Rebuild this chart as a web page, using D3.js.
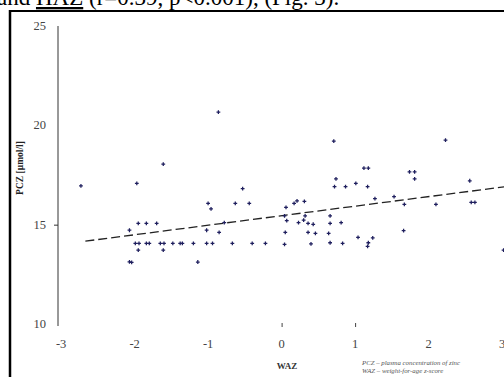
<!DOCTYPE html>
<html><head><meta charset="utf-8">
<script src="https://cdn.jsdelivr.net/npm/d3@7"></script>
<style>html,body{margin:0;padding:0;background:#fff;overflow:hidden}svg{display:block}</style>
</head><body>
<script>
const xTicks = [-3, -2, -1, 0, 1, 2, 3];
const yTicks = [10, 15, 20, 25];
const xTickMarks = [0, 1];
const yTickMarks = [15];
const waz = [-0.86,-1.61,-2.73,-1.97,-1.00,-0.96,-0.63,-0.44,-0.53,-1.95,-1.84,-1.70,-2.07,-1.02,-0.85,-0.78,
 -1.99,-1.94,-1.84,-1.80,-1.65,-1.60,-1.48,-1.38,-1.35,-1.20,-1.02,-0.94,-0.67,-0.40,-0.22,
 -1.95,-1.61,-2.07,-2.04,-1.14,
 0.71,2.23,1.12,1.18,1.74,1.81,1.81,0.74,1.01,0.72,0.87,1.17,2.56,1.27,1.53,1.67,2.10,2.58,2.63,
 0.17,0.21,0.31,0.06,0.04,0.07,0.32,0.66,0.23,0.30,0.36,0.43,0.66,0.81,0.05,0.36,0.46,0.64,1.66,
 1.04,1.24,0.04,0.40,0.66,0.83,1.18,1.17,3.02];
const pcz = [20.67,18.05,16.95,17.08,16.07,15.79,16.07,16.07,16.81,15.07,15.07,15.07,14.72,14.72,14.61,15.10,
 14.06,14.06,14.06,14.06,14.06,14.06,14.06,14.06,14.06,14.06,14.06,14.06,14.06,14.06,14.06,
 13.72,13.72,13.13,13.10,13.12,
 19.21,19.26,17.85,17.85,17.66,17.66,17.31,17.30,17.08,16.91,16.91,16.91,17.21,16.31,16.41,16.02,16.02,16.12,16.12,
 16.07,16.20,16.17,15.87,15.44,15.20,15.44,15.44,15.10,15.23,15.07,15.02,15.07,15.10,14.61,14.61,14.56,14.56,14.70,
 14.36,14.33,14.01,14.03,14.09,14.06,14.09,13.91,13.72];
const trendX = [-2.67, 3.06];
const trendY = [14.17, 16.92];

const W = 504, H = 377;
const svg = d3.select("body").append("svg").attr("width", W).attr("height", H);
const x = d3.scaleLinear().domain([-3, 3]).range([61.1, 502.1]);
const y = d3.scaleLinear().domain([10, 25]).range([324, 26]);
const serif = "'Liberation Serif','DejaVu Serif',serif";

// page text clipped at top
const t = svg.append("text").attr("x", -3).attr("y", 5).attr("font-family", serif).attr("font-size", 23).attr("fill", "#000");
t.append("tspan").text("and ");
t.append("tspan").text("HAZ").attr("text-decoration", "underline");
t.append("tspan").text(" (r=0.39, p<0.001), (Fig. 3).");

// frame
svg.append("line").attr("x1", 9).attr("x2", W).attr("y1", 11).attr("y2", 11).attr("stroke", "#000").attr("stroke-width", 2);
svg.append("line").attr("x1", 10).attr("x2", 10).attr("y1", 10).attr("y2", H).attr("stroke", "#000").attr("stroke-width", 2.5);

// y axis
const yAxis = d3.axisLeft(y).tickValues(yTickMarks).tickSize(4).tickFormat("");
const gy = svg.append("g").attr("transform", "translate(58,0)").call(yAxis);
gy.select(".domain").attr("stroke", "#333").attr("d", `M0,${y(25)}V${y(10) + 2}`);
gy.selectAll(".tick line").attr("stroke", "#333");
svg.append("g").selectAll("text").data(yTicks).join("text")
  .attr("x", 46).attr("y", d => y(d) + 4).attr("text-anchor", "end")
  .attr("font-family", serif).attr("font-size", 12.5).attr("fill", "#444").text(d => d);

// x axis ticks and labels (no domain line)
const xAxis = d3.axisBottom(x).tickValues(xTickMarks).tickSize(4).tickFormat("");
const gx = svg.append("g").attr("transform", `translate(0,${y(10) - 1})`).call(xAxis);
gx.select(".domain").remove();
gx.selectAll(".tick line").attr("stroke", "#444");
svg.append("g").selectAll("text").data(xTicks).join("text")
  .attr("x", d => x(d)).attr("y", 348).attr("text-anchor", "middle")
  .attr("font-family", serif).attr("font-size", 12.5).attr("fill", "#444").text(d => d);

// axis titles
svg.append("text").attr("transform", "translate(23,168) rotate(-90)").attr("text-anchor", "middle")
  .attr("font-family", serif).attr("font-size", 9.5).attr("font-weight", "bold").attr("fill", "#222").text("PCZ [µmol/l]");
svg.append("text").attr("x", 287).attr("y", 369).attr("text-anchor", "middle")
  .attr("font-family", serif).attr("font-size", 9).attr("font-weight", "bold").attr("fill", "#333").text("WAZ");

// footnote
const fn = svg.append("g").attr("font-family", serif).attr("font-size", 6.8).attr("font-style", "italic").attr("fill", "#555");
fn.append("text").attr("x", 362).attr("y", 365).text("PCZ – plasma concentration of zinc");
fn.append("text").attr("x", 362).attr("y", 373).text("WAZ – weight-for-age z-score");

// trend line
svg.append("line")
  .attr("x1", x(trendX[0])).attr("y1", y(trendY[0]))
  .attr("x2", x(trendX[1])).attr("y2", y(trendY[1]))
  .attr("stroke", "#222").attr("stroke-width", 1.3).attr("stroke-dasharray", "9,4");

// points
const pts = waz.map((d, i) => ({ x: d, y: pcz[i] }));
svg.append("g").selectAll("path").data(pts).join("path")
  .attr("transform", d => `translate(${x(d.x)},${y(d.y)})`)
  .attr("d", d3.symbol(d3.symbolCross, 8))
  .attr("fill", "#1f1f5e");
</script>
</body></html>
